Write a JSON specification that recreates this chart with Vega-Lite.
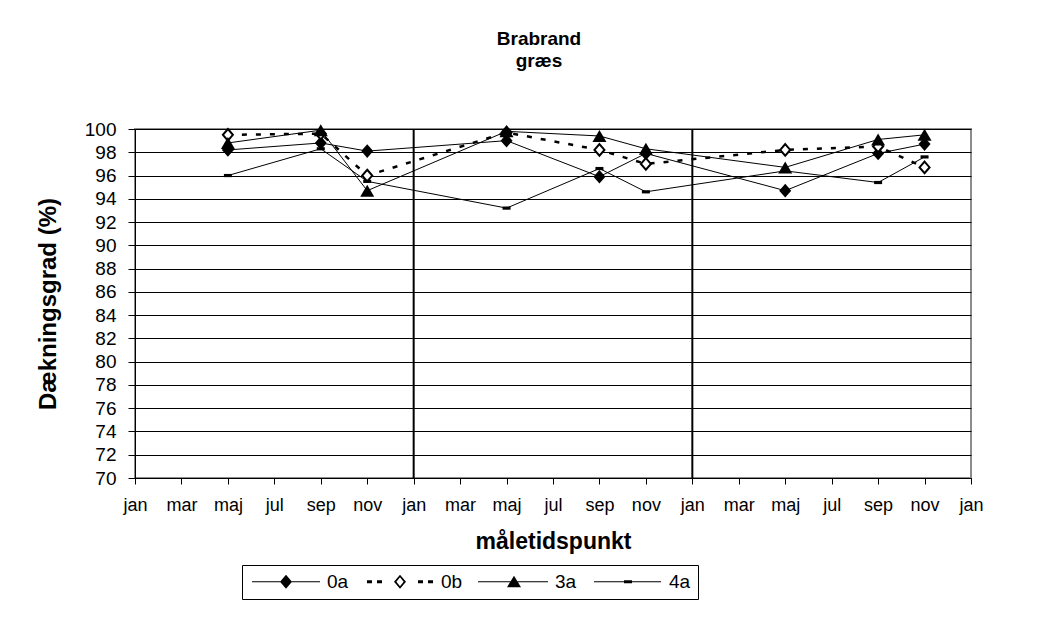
{
  "$schema": "https://vega.github.io/schema/vega-lite/v6.json",
  "width": 836,
  "height": 349,
  "autosize": {"type": "none"},
  "padding": {"left": 135, "top": 129, "right": 88, "bottom": 146},
  "background": "white",
  "title": {"text": ["Brabrand", "græs"], "fontSize": 19, "font": "Liberation Sans", "fontWeight": "bold", "anchor": "middle", "dx": -14, "offset": 49, "lineHeight": 22, "color": "black"},
  "datasets": {
    "obs": [
      {"series": "0a", "t": 4, "v": 98.2},
      {"series": "0a", "t": 8, "v": 98.8},
      {"series": "0a", "t": 10, "v": 98.1},
      {"series": "0a", "t": 16, "v": 99.0},
      {"series": "0a", "t": 20, "v": 95.9},
      {"series": "0a", "t": 22, "v": 97.9},
      {"series": "0a", "t": 28, "v": 94.7},
      {"series": "0a", "t": 32, "v": 97.9},
      {"series": "0a", "t": 34, "v": 98.7},
      {"series": "0b", "t": 4, "v": 99.5},
      {"series": "0b", "t": 8, "v": 99.6},
      {"series": "0b", "t": 10, "v": 96.0},
      {"series": "0b", "t": 16, "v": 99.7},
      {"series": "0b", "t": 20, "v": 98.2},
      {"series": "0b", "t": 22, "v": 97.0},
      {"series": "0b", "t": 28, "v": 98.2},
      {"series": "0b", "t": 32, "v": 98.5},
      {"series": "0b", "t": 34, "v": 96.7},
      {"series": "3a", "t": 4, "v": 98.8},
      {"series": "3a", "t": 8, "v": 99.9},
      {"series": "3a", "t": 10, "v": 94.7},
      {"series": "3a", "t": 16, "v": 99.8},
      {"series": "3a", "t": 20, "v": 99.4},
      {"series": "3a", "t": 22, "v": 98.3},
      {"series": "3a", "t": 28, "v": 96.7},
      {"series": "3a", "t": 32, "v": 99.1},
      {"series": "3a", "t": 34, "v": 99.5},
      {"series": "4a", "t": 4, "v": 96.0},
      {"series": "4a", "t": 8, "v": 98.3},
      {"series": "4a", "t": 10, "v": 95.5},
      {"series": "4a", "t": 16, "v": 93.2},
      {"series": "4a", "t": 20, "v": 96.6},
      {"series": "4a", "t": 22, "v": 94.6},
      {"series": "4a", "t": 28, "v": 96.4},
      {"series": "4a", "t": 32, "v": 95.4},
      {"series": "4a", "t": 34, "v": 97.6}
    ],
    "years": [{"t": 12}, {"t": 24}]
  },
  "resolve": {"scale": {"shape": "independent"}, "legend": {"shape": "independent"}},
  "layer": [
    {
      "data": {"name": "years"},
      "mark": {"type": "rule", "stroke": "black", "strokeWidth": 2},
      "encoding": {
        "x": {"field": "t", "type": "quantitative", "scale": {"domain": [0, 36], "nice": false, "zero": false},
          "axis": {"values": [0,2,4,6,8,10,12,14,16,18,20,22,24,26,28,30,32,34,36], "labelExpr": "['jan','mar','maj','jul','sep','nov'][floor((datum.value % 12) / 2)]", "grid": false, "tickSize": 6, "labelFontSize": 18, "labelPadding": 12, "labelAngle": 0, "labelFlush": false, "labelOverlap": false, "title": "måletidspunkt", "titleFontSize": 23, "titleFontWeight": "bold", "titlePadding": 16}}
      }
    },
    {
      "data": {"name": "obs"},
      "transform": [{"filter": "datum.series !== '0b'"}],
      "mark": {"type": "line", "stroke": "black", "strokeWidth": 1},
      "encoding": {
        "x": {"field": "t", "type": "quantitative", "scale": {"domain": [0, 36], "nice": false, "zero": false},
          "axis": {"values": [0,2,4,6,8,10,12,14,16,18,20,22,24,26,28,30,32,34,36], "labelExpr": "['jan','mar','maj','jul','sep','nov'][floor((datum.value % 12) / 2)]", "grid": false, "tickSize": 6, "labelFontSize": 18, "labelPadding": 12, "labelAngle": 0, "labelFlush": false, "labelOverlap": false, "title": "måletidspunkt", "titleFontSize": 23, "titleFontWeight": "bold", "titlePadding": 16}},
        "y": {"field": "v", "type": "quantitative", "scale": {"domain": [70, 100], "nice": false, "zero": false},
          "axis": {"values": [70,72,74,76,78,80,82,84,86,88,90,92,94,96,98,100], "grid": true, "gridColor": "black", "gridWidth": 1, "gridOpacity": 1, "tickSize": 7, "labelFontSize": 19, "labelPadding": 12, "labelOverlap": false, "labelFlush": false, "title": "Dækningsgrad (%)", "titleFontSize": 24, "titleFontWeight": "bold", "titlePadding": 24}},
        "detail": {"field": "series", "type": "nominal"}
      }
    },
    {
      "data": {"name": "obs"},
      "transform": [{"filter": "datum.series === '0b'"}],
      "mark": {"type": "line", "stroke": "black", "strokeWidth": 2.5, "strokeDash": [5, 9]},
      "encoding": {
        "x": {"field": "t", "type": "quantitative", "scale": {"domain": [0, 36], "nice": false, "zero": false},
          "axis": {"values": [0,2,4,6,8,10,12,14,16,18,20,22,24,26,28,30,32,34,36], "labelExpr": "['jan','mar','maj','jul','sep','nov'][floor((datum.value % 12) / 2)]", "grid": false, "tickSize": 6, "labelFontSize": 18, "labelPadding": 12, "labelAngle": 0, "labelFlush": false, "labelOverlap": false, "title": "måletidspunkt", "titleFontSize": 23, "titleFontWeight": "bold", "titlePadding": 16}},
        "y": {"field": "v", "type": "quantitative", "scale": {"domain": [70, 100], "nice": false, "zero": false},
          "axis": {"values": [70,72,74,76,78,80,82,84,86,88,90,92,94,96,98,100], "grid": true, "gridColor": "black", "gridWidth": 1, "gridOpacity": 1, "tickSize": 7, "labelFontSize": 19, "labelPadding": 12, "labelOverlap": false, "labelFlush": false, "title": "Dækningsgrad (%)", "titleFontSize": 24, "titleFontWeight": "bold", "titlePadding": 24}}
      }
    },
    {
      "data": {"name": "obs"},
      "mark": {"type": "point", "filled": true, "size": 4, "stroke": "black", "opacity": 1},
      "encoding": {
        "x": {"field": "t", "type": "quantitative", "scale": {"domain": [0, 36], "nice": false, "zero": false},
          "axis": {"values": [0,2,4,6,8,10,12,14,16,18,20,22,24,26,28,30,32,34,36], "labelExpr": "['jan','mar','maj','jul','sep','nov'][floor((datum.value % 12) / 2)]", "grid": false, "tickSize": 6, "labelFontSize": 18, "labelPadding": 12, "labelAngle": 0, "labelFlush": false, "labelOverlap": false, "title": "måletidspunkt", "titleFontSize": 23, "titleFontWeight": "bold", "titlePadding": 16}},
        "y": {"field": "v", "type": "quantitative", "scale": {"domain": [70, 100], "nice": false, "zero": false},
          "axis": {"values": [70,72,74,76,78,80,82,84,86,88,90,92,94,96,98,100], "grid": true, "gridColor": "black", "gridWidth": 1, "gridOpacity": 1, "tickSize": 7, "labelFontSize": 19, "labelPadding": 12, "labelOverlap": false, "labelFlush": false, "title": "Dækningsgrad (%)", "titleFontSize": 24, "titleFontWeight": "bold", "titlePadding": 24}},
        "shape": {"field": "series", "type": "nominal",
          "scale": {"domain": ["0a", "0b", "3a", "4a"], "range": ["M0,-6.8L6,0L0,6.8L-6,0Z", "M0,-5.8L5,0L0,5.8L-5,0Z", "M0,-6L7,6L-7,6Z", "M-4,-1.6L4,-1.6L4,1.6L-4,1.6Z"]},
          "legend": null
        },
        "fill": {"condition": {"test": "datum.series === '0b'", "value": "white"}, "value": "black"},
        "strokeWidth": {"condition": {"test": "datum.series === '0b'", "value": 2}, "value": 0}
      }
    },
    {
      "data": {"name": "obs"},
      "transform": [{"filter": "false"}],
      "mark": {"type": "point", "filled": true, "color": "black", "size": 4},
      "encoding": {
        "x": {"field": "t", "type": "quantitative", "scale": {"domain": [0, 36], "nice": false, "zero": false},
          "axis": {"values": [0,2,4,6,8,10,12,14,16,18,20,22,24,26,28,30,32,34,36], "labelExpr": "['jan','mar','maj','jul','sep','nov'][floor((datum.value % 12) / 2)]", "grid": false, "tickSize": 6, "labelFontSize": 18, "labelPadding": 12, "labelAngle": 0, "labelFlush": false, "labelOverlap": false, "title": "måletidspunkt", "titleFontSize": 23, "titleFontWeight": "bold", "titlePadding": 16}},
        "y": {"field": "v", "type": "quantitative", "scale": {"domain": [70, 100], "nice": false, "zero": false},
          "axis": {"values": [70,72,74,76,78,80,82,84,86,88,90,92,94,96,98,100], "grid": true, "gridColor": "black", "gridWidth": 1, "gridOpacity": 1, "tickSize": 7, "labelFontSize": 19, "labelPadding": 12, "labelOverlap": false, "labelFlush": false, "title": "Dækningsgrad (%)", "titleFontSize": 24, "titleFontWeight": "bold", "titlePadding": 24}},
        "shape": {"field": "series", "type": "nominal",
          "scale": {"domain": ["0a", "0b", "3a", "4a"], "range": [
            "M-34,-0.5L34,-0.5L34,0.5L-34,0.5Z M0,-7L6,0L0,7L-6,0Z",
            "M-33,-1.5L-28,-1.5L-28,1.5L-33,1.5Z M-23,-1.5L-18,-1.5L-18,1.5L-23,1.5Z M18,-1.5L23,-1.5L23,1.5L18,1.5Z M28,-1.5L33,-1.5L33,1.5L28,1.5Z M0,-7L6,0L0,7L-6,0Z M0,-4.5L-3.6,0L0,4.5L3.6,0Z",
            "M-36,-0.5L34,-0.5L34,0.5L-36,0.5Z M0,-6L7,5.5L-7,5.5Z",
            "M-34,-0.5L33,-0.5L33,0.5L-34,0.5Z M-4,-1.6L4,-1.6L4,1.6L-4,1.6Z"]},
          "legend": {"title": null, "orient": "none", "legendX": 107, "legendY": 436, "direction": "horizontal", "columns": 4, "padding": 7, "strokeColor": "black", "fillColor": "white", "symbolSize": 4, "symbolOffset": 27.5, "labelOffset": 31.5, "columnPadding": 14, "labelFontSize": 19, "labelFont": "Liberation Sans", "labelColor": "black", "symbolStrokeWidth": 0, "symbolFillColor": "black", "symbolOpacity": 1,
            "labelExpr": "datum.label == '4a' ? '4a\u00a0\u00a0\u00a0\u00a0\u00a0' : datum.label"}
        }
      }
    }
  ],
  "config": {
    "font": "Liberation Sans",
    "view": {"stroke": "#8c8c8c", "strokeWidth": 2},
    "axis": {"labelFont": "Liberation Sans", "titleFont": "Liberation Sans", "labelColor": "black", "titleColor": "black", "domainColor": "black", "tickColor": "black", "domainWidth": 1, "tickWidth": 1}
  }
}
